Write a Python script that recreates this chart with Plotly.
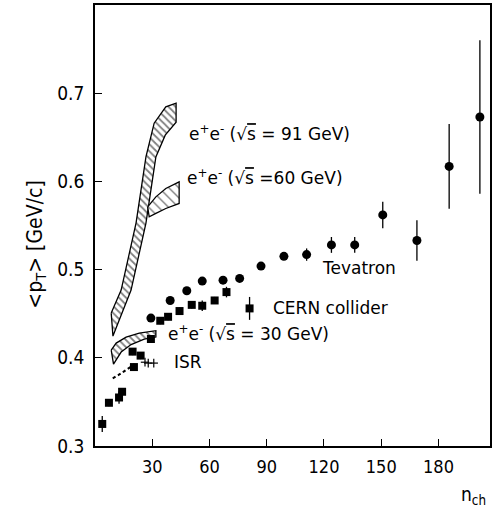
import plotly.graph_objects as go

# Tevatron (filled circles)
tev_n = [29.3, 39.4, 48.1, 56.2, 67.1, 75.8, 87.0, 99.0, 110.9, 123.9, 136.1, 150.8, 168.7, 185.6, 201.7]
tev_pt = [0.445, 0.465, 0.476, 0.487, 0.488, 0.490, 0.504, 0.515, 0.517, 0.528, 0.528, 0.562, 0.533, 0.617, 0.673]
tev_err = [0.003, 0.003, 0.003, 0.003, 0.003, 0.003, 0.003, 0.004, 0.007, 0.009, 0.009, 0.015, 0.023, 0.048, 0.087]

# CERN collider (filled squares)
cern_n = [3.8, 7.3, 12.6, 14.2, 20.4, 19.7, 23.9, 29.3, 34.2, 38.3, 44.3, 50.7, 56.2, 62.7, 68.9, 81.0]
cern_pt = [0.325, 0.349, 0.355, 0.3615, 0.3895, 0.407, 0.4025, 0.4213, 0.442, 0.4465, 0.453, 0.460, 0.459, 0.465, 0.4745, 0.456]
cern_err = [0.009, 0.004, 0.007, 0.004, 0.004, 0.004, 0.004, 0.004, 0.004, 0.004, 0.004, 0.004, 0.006, 0.004, 0.006, 0.013]

# ISR (dotted curve + small crosses)
isr_line_n = [9.3, 13.9, 18.9]
isr_line_pt = [0.3767, 0.3827, 0.390]
isr_n = [26.2, 27.9, 30.8]
isr_pt = [0.395, 0.394, 0.394]

# e+e- bands: (upper edge, lower edge)
ee91_up_n = [8.5, 13.7, 21.5, 26.7, 31.0, 37.1, 42.5]
ee91_up_pt = [0.4507, 0.4768, 0.5527, 0.6278, 0.6660, 0.6845, 0.6887]
ee91_lo_n = [9.4, 18.9, 26.7, 31.9, 36.8, 42.5]
ee91_lo_pt = [0.4246, 0.4768, 0.5527, 0.6278, 0.6524, 0.6671]

ee60_up_n = [27.6, 31.9, 37.1, 44.1]
ee60_up_pt = [0.5712, 0.5825, 0.592, 0.5995]
ee60_lo_n = [28.4, 31.9, 37.1, 44.1]
ee60_lo_pt = [0.5598, 0.5637, 0.5693, 0.575]

ee30_up_n = [8.5, 11.1, 16.3, 23.2, 31.9]
ee30_up_pt = [0.4088, 0.4167, 0.4235, 0.428, 0.4307]
ee30_lo_n = [9.7, 13.7, 18.9, 25.8, 31.9]
ee30_lo_pt = [0.3929, 0.4065, 0.415, 0.4212, 0.4235]

TICK_FONT = "DejaVu Sans Condensed, Liberation Sans Narrow, DejaVu Sans"
LABEL_FONT = "DejaVu Sans"

fig = go.Figure()


def add_band(up_n, up_pt, lo_n, lo_pt, size, solidity):
    xs = up_n + lo_n[::-1] + [up_n[0]]
    ys = up_pt + lo_pt[::-1] + [up_pt[0]]
    fig.add_trace(go.Scatter(
        x=xs, y=ys, mode='lines', fill='toself',
        fillcolor='white',
        fillpattern=dict(shape='\\', size=size, solidity=solidity,
                         fgcolor='black', bgcolor='white'),
        line=dict(color='black', width=1.3),
        showlegend=False, hoverinfo='skip'
    ))


add_band(ee91_up_n, ee91_up_pt, ee91_lo_n, ee91_lo_pt, 5, 0.35)
add_band(ee60_up_n, ee60_up_pt, ee60_lo_n, ee60_lo_pt, 7, 0.2)
add_band(ee30_up_n, ee30_up_pt, ee30_lo_n, ee30_lo_pt, 5, 0.35)

fig.add_trace(go.Scatter(
    x=isr_line_n, y=isr_line_pt, mode='lines',
    line=dict(color='black', width=2, dash='dot', shape='spline'),
    showlegend=False
))
fig.add_trace(go.Scatter(
    x=isr_n, y=isr_pt, mode='markers',
    marker=dict(symbol='line-ew', size=6, line=dict(color='black', width=1.2)),
    error_y=dict(type='constant', value=0.005, color='black', thickness=1.2, width=0),
    showlegend=False
))

fig.add_trace(go.Scatter(
    x=cern_n, y=cern_pt, mode='markers',
    marker=dict(symbol='square', size=8, color='black'),
    error_y=dict(type='data', array=cern_err, color='black', thickness=1.3, width=0),
    showlegend=False
))
fig.add_trace(go.Scatter(
    x=tev_n, y=tev_pt, mode='markers',
    marker=dict(symbol='circle', size=9, color='black'),
    error_y=dict(type='data', array=tev_err, color='black', thickness=1.3, width=0),
    showlegend=False
))

sqrt_s = "(√<span style='text-decoration:overline'>s</span>"
labels = [
    (48.2, 0.655, "e<sup>+</sup>e<sup>-</sup> " + sqrt_s + " = 91 GeV)"),
    (47.2, 0.605, "e<sup>+</sup>e<sup>-</sup> " + sqrt_s + " =60 GeV)"),
    (117.9, 0.5017, "Tevatron"),
    (92.0, 0.4564, "CERN collider"),
    (37.2, 0.4280, "e<sup>+</sup>e<sup>-</sup> " + sqrt_s + " = 30 GeV)"),
    (40.3, 0.3950, "ISR"),
]
for lx, ly, txt in labels:
    fig.add_annotation(x=lx, y=ly, text=txt, showarrow=False,
                       xanchor='left', yanchor='middle',
                       font=dict(family=LABEL_FONT, size=17, color='black'))

fig.add_annotation(xref='paper', yref='paper', x=-0.15, y=0.456,
                   text="&lt;p<sub>T</sub>&gt; [GeV/c]", textangle=-90,
                   showarrow=False, xanchor='center', yanchor='middle',
                   font=dict(family=TICK_FONT, size=21, color='black'))
fig.add_annotation(xref='paper', yref='paper', x=0.995, y=-0.113,
                   text="n<sub>ch</sub>", showarrow=False,
                   xanchor='right', yanchor='middle',
                   font=dict(family=TICK_FONT, size=19, color='black'))

fig.update_xaxes(
    range=[0, 207], tickvals=[30, 60, 90, 120, 150, 180],
    ticks='inside', ticklen=7, tickwidth=1.2, tickcolor='black',
    showline=True, linecolor='black', linewidth=1.5, mirror=True,
    showgrid=False, zeroline=False, ticklabelstandoff=4,
    tickfont=dict(family=TICK_FONT, size=18, color='black')
)
fig.update_yaxes(
    range=[0.3, 0.8], tickvals=[0.3, 0.4, 0.5, 0.6, 0.7],
    ticktext=['0.3', '0.4', '0.5', '0.6', '0.7'],
    ticks='inside', ticklen=7, tickwidth=1.2, tickcolor='black',
    showline=True, linecolor='black', linewidth=1.5, mirror=True,
    showgrid=False, zeroline=False, ticklabelstandoff=5,
    tickfont=dict(family=TICK_FONT, size=19, color='black')
)

fig.update_layout(
    width=495, height=510,
    margin=dict(l=95, r=3, t=5, b=64),
    plot_bgcolor='white', paper_bgcolor='white',
    showlegend=False
)

fig.write_html("out.html", config={'displayModeBar': False},
               post_script="document.body.style.margin='0';document.body.style.overflow='hidden';")
